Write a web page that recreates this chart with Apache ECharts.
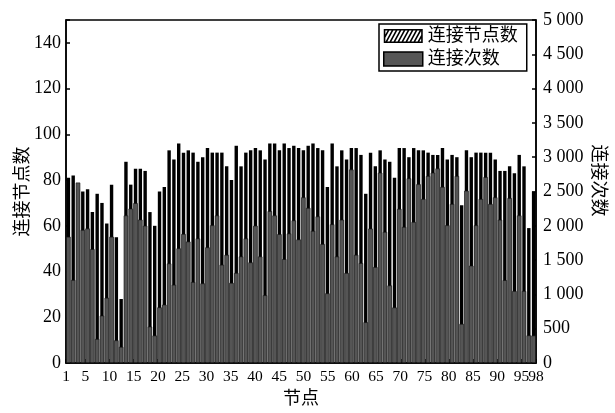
<!DOCTYPE html>
<html><head><meta charset="utf-8">
<script src="https://cdn.jsdelivr.net/npm/echarts@6/dist/echarts.min.js"></script>
<style>html,body{margin:0;padding:0;background:#fff}#c{width:615px;height:413px}</style>
</head><body><div id="c"></div>
<script>
// ---- data ----
const categories = ['1','2','3','4','5','6','7','8','9','10','11','12','13','14','15','16','17','18','19','20',
'21','22','23','24','25','26','27','28','29','30','31','32','33','34','35','36','37','38','39','40',
'41','42','43','44','45','46','47','48','49','50','51','52','53','54','55','56','57','58','59','60',
'61','62','63','64','65','66','67','68','69','70','71','72','73','74','75','76','77','78','79','80',
'81','82','83','84','85','86','87','88','89','90','91','92','93','94','95','96','97','98'];
const xTickLabels = ['1','5','10','15','20','25','30','35','40','45','50','55','60','65','70','75','80','85','90','95','98'];
const leftTicks = [0,20,40,60,80,100,120,140];
const rightTicks = [0,500,1000,1500,2000,2500,3000,3500,4000,4500,5000];
// 连接节点数 (left axis)
const nodeCounts = [81,82,76,75,76,66,74,70,61,78,55,28,88,78,85,85,84,66,60,75,
77,93,89,96,92,93,92,88,90,94,92,92,92,86,80,95,86,92,93,94,
93,89,96,96,93,96,94,95,94,93,95,96,94,93,77,96,86,93,89,94,
94,91,74,92,86,93,89,88,81,94,94,90,94,93,93,92,91,91,94,89,
91,90,69,93,90,92,92,92,92,89,84,84,86,83,91,86,59,75];
// 连接次数 (right axis)
const connCounts = [1840,1210,2630,1940,1960,1660,350,690,950,1840,330,235,2150,2250,2330,2090,2000,530,400,810,
850,1450,1140,1670,1880,1770,1180,1815,1160,1685,2007,2150,1432,1576,1168,1312,1552,1815,1466,2000,
1552,987,2213,2150,1877,1513,1887,2078,1800,2414,2261,1925,2136,1734,1015,2021,1552,2088,1312,2820,
1576,1456,594,1959,1398,2773,1911,1130,809,2246,1983,2691,2055,2605,2390,2725,2773,2835,2567,2007,
2318,2725,570,2510,1418,2007,2390,2710,2318,2414,2088,1207,2404,1049,2150,1049,402,400];
const seriesNames = ['连接节点数','连接次数'];
const axisNames = {x:'节点', left:'连接节点数', right:'连接次数'};

// ---- style helpers ----
const SERIF = '"Liberation Serif","Noto Sans CJK SC",serif';
const CJK = '"Liberation Serif","Noto Sans CJK SC",sans-serif';

function clipPoly(poly, xc, keepGreater){
  const out=[]; const n=poly.length;
  for(let i=0;i<n;i++){
    const a=poly[i], b=poly[(i+1)%n];
    const ina = keepGreater ? a[0]>=xc : a[0]<=xc;
    const inb = keepGreater ? b[0]>=xc : b[0]<=xc;
    if(ina) out.push(a);
    if(ina!==inb){
      const t=(xc-a[0])/(b[0]-a[0]);
      out.push([xc, a[1]+t*(b[1]-a[1])]);
    }
  }
  return out;
}
function hatchIcon(W,H,b,step,sw,slant){
  let d=`M0 0L${W} 0L${W} ${H}L0 ${H}Z M${b} ${b}L${b} ${H-b}L${W-b} ${H-b}L${W-b} ${b}Z`;
  const y0=b,y1=H-b,x0=b,x1=W-b;
  for(let a=x0-slant-sw; a<x1; a+=step){
    let p=[[a,y1],[a+sw,y1],[a+slant+sw,y0],[a+slant,y0]];
    p=clipPoly(p,x0,true); p=clipPoly(p,x1,false);
    if(p.length>=3) d+=' M'+p.map(q=>q[0].toFixed(2)+' '+q[1].toFixed(2)).join('L')+'Z';
  }
  return 'path://'+d;
}
function fmtRight(v){
  if(v>=1000){ return Math.floor(v/1000)+' '+String(v%1000).padStart(3,'0'); }
  return String(v);
}
const showX = (idx) => xTickLabels.indexOf(categories[idx])>=0;

const chart = echarts.init(document.getElementById('c'), null, {renderer:'canvas'});
chart.setOption({
  animation:false,
  backgroundColor:'#fff',
  grid:{left:66, right:75, top:20, bottom:45, show:true, borderColor:'#000', borderWidth:1.5, backgroundColor:'transparent'},
  legend:{
    orient:'vertical', left:379, top:24,
    itemWidth:39, itemHeight:14, itemGap:5,
    padding:[3,9,3,4],
    borderColor:'#000', borderWidth:1.5, backgroundColor:'#fff',
    textStyle:{fontFamily:CJK, fontSize:18, color:'#000'},
    data:[
      {name:seriesNames[0], icon:hatchIcon(39,14,1.6,4,1.8,6), itemStyle:{color:'#000', borderWidth:0}},
      {name:seriesNames[1], icon:'rect', itemStyle:{color:'#575757', borderColor:'#000', borderWidth:1.5}}
    ]
  },
  xAxis:[
    {type:'category', data:categories, boundaryGap:false, position:'bottom',
     axisLine:{lineStyle:{color:'#000', width:1.5}},
     axisTick:{inside:true, length:4, interval:showX, lineStyle:{color:'#000', width:1.5}},
     axisLabel:{interval:0, formatter:(v)=> xTickLabels.indexOf(v)>=0 ? v : '',
       color:'#000', fontFamily:SERIF, fontSize:15.5, margin:6},
     splitLine:{show:false},
     name:axisNames.x, nameLocation:'middle', nameGap:27, nameMoveOverlap:false,
     nameTextStyle:{fontFamily:CJK, fontSize:18, color:'#000'}},
    {type:'category', data:categories, boundaryGap:true, show:false, position:'bottom'},
    {type:'category', data:categories, boundaryGap:true, show:false, position:'bottom'}
  ],
  yAxis:[
    {type:'value', min:0, max:150, interval:20, position:'left',
     axisLine:{show:true, lineStyle:{color:'#000', width:1.5}},
     axisTick:{show:true, inside:true, length:4, lineStyle:{color:'#000', width:1.5}},
     axisLabel:{color:'#000', fontFamily:SERIF, fontSize:18, margin:5,
       formatter:(v)=> leftTicks.indexOf(v)>=0 ? String(v) : ''},
     splitLine:{show:false},
     name:axisNames.left, nameLocation:'middle', nameRotate:90, nameGap:34, nameMoveOverlap:false,
     nameTextStyle:{fontFamily:CJK, fontSize:18, color:'#000'}},
    {type:'value', min:0, max:5000, interval:500, position:'right',
     axisLine:{show:true, lineStyle:{color:'#000', width:1.5}},
     axisTick:{show:true, inside:true, length:4, lineStyle:{color:'#000', width:1.5}},
     axisLabel:{color:'#000', fontFamily:SERIF, fontSize:18, margin:7,
       formatter:(v)=> rightTicks.indexOf(v)>=0 ? fmtRight(v) : ''},
     splitLine:{show:false},
     name:axisNames.right, nameLocation:'middle', nameRotate:-90, nameGap:53, nameMoveOverlap:false,
     nameTextStyle:{fontFamily:CJK, fontSize:18, color:'#000', padding:[0,22,0,0]}}
  ],
  series:[
    {name:seriesNames[0], type:'bar', xAxisIndex:1, yAxisIndex:0, data:nodeCounts,
     barWidth:3.4, itemStyle:{color:'#000'}},
    {name:seriesNames[1], type:'bar', xAxisIndex:2, yAxisIndex:1, data:connCounts,
     barWidth:4.5, itemStyle:{color:'#555555', borderColor:'#111', borderWidth:0.6}}
  ]
});
</script>
</body></html>
